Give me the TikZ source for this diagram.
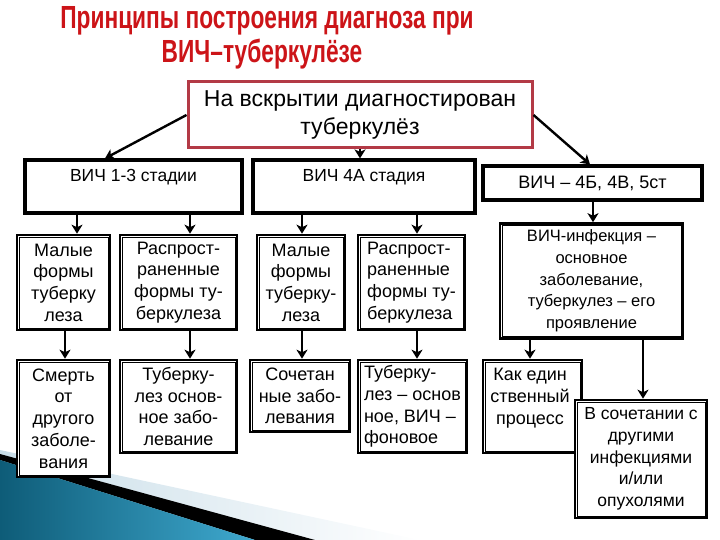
\documentclass[tikz,border=0pt]{standalone}
\usepackage{fontspec}
\setmainfont{Liberation Sans}
\usetikzlibrary{arrows.meta,calc}
\definecolor{titlered}{HTML}{CC1418}
\definecolor{boxred}{HTML}{B33A46}
\definecolor{teal1}{HTML}{0E5C78}
\definecolor{teal2}{HTML}{3FA9CF}
\definecolor{pale}{HTML}{C8DDE8}
\begin{document}
\begin{tikzpicture}[x=1pt,y=-1pt,
  title/.style={text=titlered,font=\fontsize{32}{36}\selectfont\bfseries,xscale=0.71},
  bx/.style={draw=black,fill=white,line width=2.6pt,inner sep=0pt},
  inner/.style={draw=black,line width=0.7pt},
  txt/.style={align=center,font=\fontsize{18}{21.7}\selectfont,inner sep=0pt},
  arr/.style={line width=2.4pt,-{Stealth[length=9pt,width=11pt,inset=2.5pt]}}]
\useasboundingbox (0,0) rectangle (720,540);
% background swoosh
\shade[left color=pale,right color=white] (0,450) -- (420,540) -- (0,540) -- cycle;
\fill[black] (0,454) -- (315,540) -- (255,540) -- (0,460) -- cycle;
\shade[left color=teal1,right color=teal2] (0,460) -- (255,540) -- (0,540) -- cycle;
% title
\node[title] (t1) at (267,21) {Принципы построения диагноза при};
\node[title] (t2) at (262,54) {ВИЧ–туберкулёзе};
% top box
\node[draw=boxred,fill=white,line width=3pt,minimum width=344pt,minimum height=66pt,
  align=center,font=\fontsize{23}{28}\selectfont] (T) at (360,115) {На вскрытии диагностирован\\туберкулёз};
% stage boxes
\node[bx,line width=3.2pt,minimum width=217pt,minimum height=53pt] (S1) at (133.5,186.5) {};
\node[txt,font=\fontsize{17.5}{20}\selectfont] (S1t) at (133.5,177) {ВИЧ 1-3 стадии};
\node[bx,line width=3.2pt,minimum width=222pt,minimum height=53pt] (S2) at (364,186.5) {};
\node[txt,font=\fontsize{17.5}{20}\selectfont] (S2t) at (364,177) {ВИЧ 4А стадия};
\node[bx,line width=3.2pt,minimum width=219pt,minimum height=34pt,txt] (S3) at (592.5,183) {ВИЧ – 4Б, 4В, 5ст};
% row 2
\node[bx,txt,minimum width=93pt,minimum height=95pt] (A) at (63.5,282.5) {Малые\\формы\\туберку\\леза};
\node[bx,txt,minimum width=117pt,minimum height=95pt] (B) at (178.5,282.5) {Распрост-\\раненные\\формы ту-\\беркулеза};
\node[bx,txt,minimum width=88pt,minimum height=95pt] (C) at (301,282.5) {Малые\\формы\\туберку-\\леза};
\node[bx,txt,align=left,minimum width=107pt,minimum height=95pt] (D) at (411.5,282.5) {Распрост-\\раненные\\формы ту-\\беркулеза};
\node[bx,txt,font=\fontsize{16.5}{21.7}\selectfont,minimum width=183pt,minimum height=115pt] (E) at (591.5,281) {ВИЧ-инфекция –\\основное\\заболевание,\\туберкулез – его\\проявление};
% row 3
\node[bx,txt,minimum width=93pt,minimum height=117pt] (F) at (63.5,418.5) {Смерть\\от\\другого\\заболе-\\вания};
\node[bx,txt,minimum width=117pt,minimum height=93pt] (G) at (178.5,406.5) {Туберку-\\лез основ-\\ное забо-\\левание};
\node[bx,txt,minimum width=100pt,minimum height=72pt] (H) at (300,396) {Сочетан\\ные забо-\\левания};
\node[bx,txt,align=left,minimum width=109pt,minimum height=93pt] (I) at (412.5,406.5) {Туберку-\\лез – основ\\ное, ВИЧ –\\фоновое};
\node[bx,minimum width=99pt,minimum height=93pt] (J) at (532.5,406.5) {};
\node[txt] (Jt) at (530,398) {Как един\\ственный\\процесс};
% inner thin lines of double borders
\foreach \n in {S3,A,B,C,D,E,F,G,H,I,J}
  \draw[inner] ([shift={(3.4pt,-3.4pt)}]\n.north west) rectangle ([shift={(-3.4pt,3.4pt)}]\n.south east);
% K drawn over J
\node[bx,txt,font=\fontsize{17.5}{21.7}\selectfont,minimum width=132pt,minimum height=118pt] (K) at (641,459) {В сочетании с\\другими\\инфекциями\\и/или\\опухолями};
\draw[inner] ([shift={(3.4pt,-3.4pt)}]K.north west) rectangle ([shift={(-3.4pt,3.4pt)}]K.south east);
% x positions for connectors
\coordinate (x65) at (65,0);
\coordinate (x77) at (77,0);
\coordinate (x105) at (105,0);
\coordinate (x190) at (190,0);
\coordinate (x302) at (302,0);
\coordinate (x417) at (417,0);
\coordinate (x530) at (530,0);
\coordinate (x590) at (590,0);
\coordinate (x593) at (593,0);
\coordinate (x643) at (643,0);
% connectors
\draw[arr] (T.west) -- (S1.north -| x105);
\draw[arr] (T.south) -- (S2.north -| T.south);
\draw[arr] (T.east) -- (S3.north -| x590);
\draw[arr] (S1.south -| x77) -- (A.north -| x77);
\draw[arr] (S1.south -| x190) -- (B.north -| x190);
\draw[arr] (S2.south -| x302) -- (C.north -| x302);
\draw[arr] (S2.south -| x417) -- (D.north -| x417);
\draw[arr] (S3.south -| x593) -- (E.north -| x593);
\draw[arr] (A.south -| x65) -- (F.north -| x65);
\draw[arr] (B.south -| x190) -- (G.north -| x190);
\draw[arr] (C.south -| x302) -- (H.north -| x302);
\draw[arr] (D.south -| x417) -- (I.north -| x417);
\draw[arr] (E.south -| x530) -- (J.north -| x530);
\draw[arr] (E.south -| x643) -- (K.north -| x643);
\end{tikzpicture}
\end{document}
